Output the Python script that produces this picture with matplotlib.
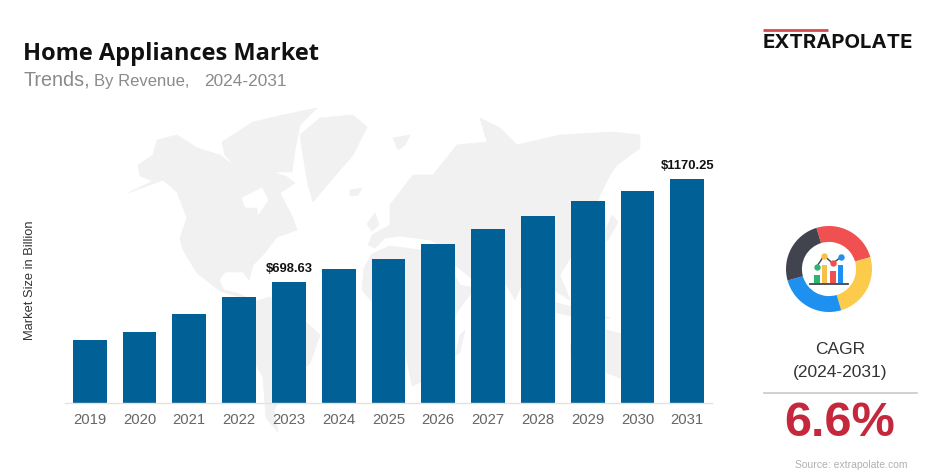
import matplotlib
matplotlib.use("Agg")
import matplotlib.pyplot as plt
from matplotlib.patches import Polygon
import matplotlib.patheffects as pe

W, H = 943, 475

years = ["2019", "2020", "2021", "2022", "2023", "2024", "2025", "2026", "2027", "2028", "2029", "2030", "2031"]
revenue = [433, 470, 550, 630, 698.63, 756, 802, 873, 941, 1001, 1070, 1115, 1170.25]
labelled = {"2023": "$698.63", "2031": "$1170.25"}
donut_shares = [91, 89.5, 91, 88.5]
donut_colors = ["#F0504F", "#FCCB4B", "#1E90F0", "#41434F"]

AXIS_FLOOR = 144.6
BAR_COLOR = "#016197"
MAP_COLOR = "#F1F1F1"
SANS = "Liberation Sans"

fig = plt.figure(figsize=(W / 100, H / 100), dpi=100, facecolor="white")


def box(x0, y0, x1, y1):
    return [x0 / W, 1 - y1 / H, (x1 - x0) / W, (y1 - y0) / H]


# Full-figure layer in pixel coordinates for the decoration
bg = fig.add_axes([0, 0, 1, 1], zorder=0)
bg.set_xlim(0, W)
bg.set_ylim(H, 0)
bg.axis("off")

land = [
    # North America
    [(128, 193), (153, 181), (140, 176), (138, 165), (153, 155), (157, 140), (177, 135), (197, 148), (220, 155),
     (233, 165), (267, 170), (287, 177), (295, 183), (280, 193), (293, 218), (297, 230), (277, 237), (263, 255),
     (253, 265), (249, 280), (243, 272), (225, 272), (219, 280), (224, 290), (237, 293), (248, 298), (236, 296),
     (220, 291), (197, 273), (183, 250), (180, 238), (187, 218), (177, 192), (163, 180)],
    # Canadian archipelago
    [(222, 142), (253, 122), (283, 115), (317, 108), (300, 125), (295, 150), (292, 172), (270, 172), (235, 166), (225, 155)],
    # South America
    [(250, 303), (270, 297), (295, 312), (320, 335), (310, 363), (290, 382), (274, 410), (278, 432), (266, 418),
     (263, 377), (247, 350), (240, 323)],
    # Greenland
    [(300, 135), (320, 118), (353, 115), (367, 127), (353, 155), (327, 185), (313, 202), (308, 185), (303, 155)],
    # Iceland, Svalbard, Britain
    [(350, 190), (362, 188), (358, 195), (350, 196)],
    [(393, 138), (410, 135), (405, 145), (398, 150)],
    [(367, 224), (375, 213), (379, 225), (372, 231)],
    # Eurasia
    [(368, 245), (372, 235), (390, 225), (390, 205), (413, 175), (433, 175), (457, 145), (487, 142), (480, 118),
     (500, 128), (517, 145), (560, 135), (613, 132), (640, 135), (640, 148), (617, 165), (610, 175), (600, 195),
     (590, 225), (575, 250), (560, 275), (570, 300), (545, 285), (530, 265), (515, 300), (495, 265), (475, 265),
     (480, 285), (455, 265), (445, 248), (430, 240), (400, 236), (385, 238), (375, 248)],
    # Africa
    [(364, 268), (372, 254), (390, 246), (420, 250), (445, 258), (460, 285), (475, 288), (457, 312), (447, 340),
     (425, 380), (412, 386), (405, 350), (398, 312), (375, 305), (362, 290)],
    # Madagascar, Japan
    [(460, 335), (465, 330), (460, 352), (455, 356)],
    [(612, 215), (618, 222), (608, 240), (600, 243)],
    # Indonesia and Australia
    [(545, 300), (585, 310), (610, 318), (585, 320), (555, 312)],
    [(570, 345), (600, 328), (625, 335), (640, 365), (620, 378), (595, 368), (572, 372)],
]
for shape in land:
    bg.add_patch(Polygon(shape, closed=True, facecolor=MAP_COLOR, edgecolor=MAP_COLOR, lw=0.5))
# Hudson Bay
for shape in [[(242, 198), (262, 188), (268, 200), (258, 215), (258, 208), (245, 207)]]:
    bg.add_patch(Polygon(shape, closed=True, facecolor="white", edgecolor="white", lw=0.5))

# Title block
bg.text(23, 59.5, "Home Appliances Market", family="Open Sans", weight="bold", fontsize=17,
        color="#111111", va="baseline", ha="left")
bg.text(23, 86, "Trends,", family=SANS, fontsize=14.2, color="#8A8A8A", va="baseline", ha="left")
bg.text(94, 86, "By Revenue,", family=SANS, fontsize=12, color="#8A8A8A", va="baseline", ha="left")
bg.text(204, 86, "2024-2031", family=SANS, fontsize=12.4, color="#8A8A8A", va="baseline", ha="left")

# Logo
bg.plot([763, 828], [29.5, 29.5], color="#D9484E", lw=2, solid_capstyle="butt")
bg.text(762.5, 47.5, "EXTRAPOLATE", family="Inter", weight="bold", fontsize=14.6, color="#111111",
        va="baseline", ha="left")

# Right panel text
bg.text(840.5, 350, "CAGR", family=SANS, fontsize=12.5, color="#333333", ha="center", va="center")
bg.text(840.5, 372, "(2024-2031)", family=SANS, fontsize=12.5, color="#333333", ha="center", va="center")
bg.plot([764, 917], [393, 393], color="#C9C9C9", lw=1.2)
bg.text(840, 423.5, "6.6%", family=SANS, weight="bold", fontsize=35, color="#C5283D", ha="center", va="center")
bg.text(851, 464.5, "Source: extrapolate.com", family=SANS, fontsize=7.5, color="#B0B0B0", ha="center", va="center")

# Small chart icon in the donut
for x0, x1, y0, col in [(814.3, 820, 275, "#2BB673"), (821.7, 826.7, 265, "#F6C04D"),
                        (830, 835.7, 270.7, "#F0504F"), (838.3, 843.3, 265, "#1E90F0")]:
    bg.fill_between([x0, x1], [y0, y0], [283.3, 283.3], color=col, lw=0, zorder=5)
bg.plot([810, 847.7], [284, 284], color="#41434F", lw=1.3, zorder=5)
icon_x = [816.7, 824, 832.7, 840.7]
icon_y = [266.7, 255.7, 263.3, 257.3]
bg.plot(icon_x, icon_y, color="#41434F", lw=1, zorder=5)
for px, py, col in zip(icon_x, icon_y, ["#2BB673", "#F6C04D", "#F0504F", "#1E90F0"]):
    bg.plot([px], [py], "o", ms=4.6, color=col, mew=0, zorder=6)

# Donut
don = fig.add_axes(box(786, 226, 872, 312), zorder=-1)
don.pie(donut_shares, colors=donut_colors, startangle=107, counterclock=False, radius=1,
        wedgeprops=dict(width=0.37, linewidth=0))
don.set_xlim(-1, 1)
don.set_ylim(-1, 1)
bg.patch.set_alpha(0)

# Bars
ax = fig.add_axes(box(64.8, 150, 712.2, 402.7), zorder=2)
ax.patch.set_alpha(0)
xs = range(len(years))
ax.bar(xs, revenue, width=0.68, color=BAR_COLOR, linewidth=0)
ax.set_xlim(-0.5, 12.5)
ax.set_ylim(AXIS_FLOOR, AXIS_FLOOR + (1170.25 - AXIS_FLOOR) * (402.7 - 150) / 224)
ax.set_xticks(list(xs), years, family=SANS, fontsize=10.7, color="#666666")
ax.tick_params(axis="x", length=0, pad=7.5)
ax.set_yticks([])
for side in ["top", "right", "left"]:
    ax.spines[side].set_visible(False)
ax.spines["bottom"].set_color("#E2E2E2")
ax.spines["bottom"].set_linewidth(1)
for i, yr in enumerate(years):
    if yr in labelled:
        ax.annotate(labelled[yr], (i, revenue[i]), xytext=(0, 9), textcoords="offset points",
                    ha="center", va="center", family=SANS, weight="bold", fontsize=9.4,
                    color="#111111", annotation_clip=False)

bg.text(30, 280, "Market Size in Billion", family=SANS, fontsize=9.3, color="#333333",
        rotation=90, ha="center", va="center")

fig.savefig("out.png", dpi=100, facecolor="white")
